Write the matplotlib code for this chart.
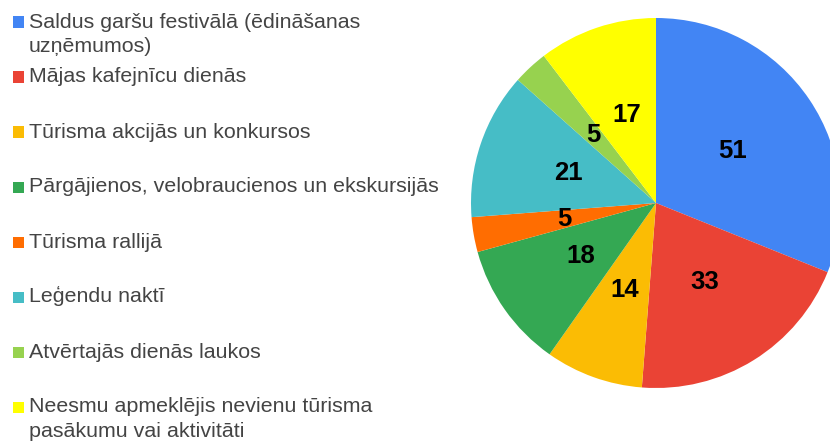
import matplotlib.pyplot as plt
from matplotlib.patches import Rectangle

plt.rcParams['font.family'] = ['Liberation Sans', 'DejaVu Sans']

kategorijas = [
    "Saldus garšu festivālā (ēdināšanas\nuzņēmumos)",
    "Mājas kafejnīcu dienās",
    "Tūrisma akcijās un konkursos",
    "Pārgājienos, velobraucienos un ekskursijās",
    "Tūrisma rallijā",
    "Leģendu naktī",
    "Atvērtajās dienās laukos",
    "Neesmu apmeklējis nevienu tūrisma\npasākumu vai aktivitāti",
]
skaits = [51, 33, 14, 18, 5, 21, 5, 17]
krasas = ["#4285F4", "#EA4335", "#FBBC04", "#34A853",
          "#FF6D01", "#46BDC6", "#97D24F", "#FFFF00"]

W, H = 830, 442
fig = plt.figure(figsize=(W / 100, H / 100), dpi=100)

# pīrāga diagramma (centrs ~ (656, 203), rādiuss ~185 px)
cx, cy, r = 656, 203, 185
ax = fig.add_axes([(cx - r) / W, (H - cy - r) / H, 2 * r / W, 2 * r / H])
ax.pie(skaits, colors=krasas, startangle=90, counterclock=False,
       labels=None, autopct=lambda p: f"{round(p * sum(skaits) / 100):d}",
       pctdistance=0.5, wedgeprops=dict(linewidth=0),
       textprops=dict(fontsize=18.5, fontweight='bold', color='black'))
ax.set_xlim(-1, 1)
ax.set_ylim(-1, 1)
ax.set_aspect('equal')
ax.axis('off')

# leģenda
y0, solis = 22, 55
for i, (nos, kr) in enumerate(zip(kategorijas, krasas)):
    y = y0 + i * solis
    fig.patches.append(Rectangle((13 / W, 1 - (y + 5.5) / H), 11 / W, 11 / H,
                                 transform=fig.transFigure, facecolor=kr,
                                 edgecolor='none'))
    for k, rinda in enumerate(nos.split("\n")):
        fig.text(29 / W, 1 - (y + 5.5 + k * 24.5) / H, rinda, fontsize=15.4,
                 color='#444444', va='baseline', ha='left')

fig.savefig("out.png", dpi=100)
